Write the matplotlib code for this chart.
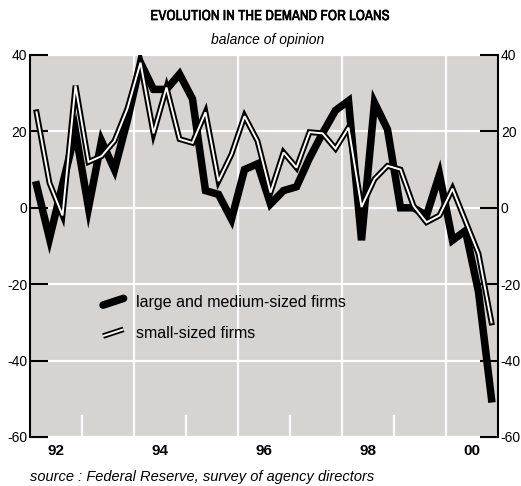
import matplotlib
matplotlib.use("Agg")
import matplotlib.pyplot as plt
from matplotlib import font_manager
from matplotlib import patheffects
from matplotlib.legend_handler import HandlerBase
from matplotlib.lines import Line2D

plt.rcParams["font.family"] = ["Liberation Sans", "DejaVu Sans"]
plt.rcParams["axes.unicode_minus"] = False

# quarterly values, 1992Q1 .. 2000Q4
large_firms = [6, -8, 6, 20, 0, 17.5, 10, 23, 38,
               31, 31, 35, 28.5, 4.5, 3.5, -3, 10, 11.5,
               1, 4.5, 5.5, 13, 19.5, 25.5, 28, -8.5, 27.5,
               20.5, 0, 0, -2, 8.7, -8.5, -6, -22, -50]
small_firms = [25, 6.5, -2, 32, 12, 13.5, 17.5, 26, 38,
               19.5, 31.5, 18, 17, 25, 7, 14, 24, 17.5,
               4, 14.5, 10.5, 19.8, 19.5, 15.5, 21, 0.2, 7.5,
               11, 10, 0.5, -3.8, -2, 5, -3.5, -12, -30]
first_year = 1992
year_labels = ["92", "94", "96", "98", "00"]
label_years = [1992, 1994, 1996, 1998, 2000]
grid_years = [1994, 1996, 1998, 2000]
minor_years = [1993, 1995, 1997, 1999]
y_ticks = [-60, -40, -20, 0, 20, 40]

x = [first_year + (i + 0.5) / 4 for i in range(len(large_firms))]

# condensed face for the title if one is around
narrow_names = sorted({f.name for f in font_manager.fontManager.ttflist
					   if "Narrow" in f.name or "Condensed" in f.name})
title_font = [narrow_names[0]] if narrow_names else ["Liberation Sans"]
title_size = 10.5


class SlantHandler(HandlerBase):
	def __init__(self, outlined=False):
		super().__init__()
		self.outlined = outlined

	def create_artists(self, legend, orig_handle, xdescent, ydescent, width, height, fontsize, trans):
		xs = [width * 0.1, width * 0.9]
		ys = [height * 0.15, height * 0.75]
		if self.outlined:
			outer = Line2D(xs, ys, color="black", lw=4, transform=trans, solid_capstyle="butt")
			inner = Line2D(xs, ys, color="white", lw=1.4, transform=trans, solid_capstyle="butt")
			return [outer, inner]
		return [Line2D(xs, ys, color="black", lw=5.5, transform=trans, solid_capstyle="round")]


fig = plt.figure(figsize=(5.21, 4.86), dpi=100)
ax = fig.add_axes([30 / 521, 1 - 437 / 486, 468 / 521, 382 / 486])
ax.set_facecolor("#d6d3d1")

ax.set_xlim(first_year, first_year + 9)
ax.set_ylim(-60, 40)

for gy in grid_years:
	ax.axvline(gy, color="white", lw=1.6, zorder=1)
ax.set_yticks(y_ticks)
ax.yaxis.grid(True, color="white", lw=1.6, zorder=1)
ax.set_axisbelow(True)

ax.plot(x, large_firms, color="black", lw=5.4, solid_joinstyle="miter", zorder=3)
ax.plot(x, small_firms, color="black", lw=4.2, solid_joinstyle="miter", zorder=4)
ax.plot(x, small_firms, color="white", lw=1.4, solid_joinstyle="miter", zorder=5)

for side in ["top", "bottom"]:
	ax.spines[side].set_visible(False)
for side in ["left", "right"]:
	ax.spines[side].set_linewidth(1.5)

ax.tick_params(axis="y", which="major", direction="in", length=13, width=1.5,
			   left=True, right=True, labelleft=True, labelright=True, labelsize=10, pad=2)

ax.set_xticks([y + 0.5 for y in label_years])
ax.set_xticklabels(year_labels, fontweight="bold", fontsize=11)
ax.set_xticks(minor_years, minor=True)
ax.tick_params(axis="x", which="major", length=0, pad=5)
ax.tick_params(axis="x", which="minor", direction="in", length=16, width=1.6, color="white")

handles = [Line2D([], [], color="black"), Line2D([], [], color="white")]
ax.legend(handles, ["large and medium-sized firms", "small-sized firms"],
		  handler_map={handles[0]: SlantHandler(False), handles[1]: SlantHandler(True)},
		  loc="upper left", bbox_to_anchor=(0.12, 0.41), frameon=False,
		  fontsize=11.5, handlelength=1.6, handletextpad=0.6, labelspacing=1.0)

fig.text(0.518, 0.967, "EVOLUTION IN THE DEMAND FOR LOANS", ha="center", va="center",
		 fontsize=title_size, fontweight="bold", family=title_font + ["DejaVu Sans"],
		 path_effects=[patheffects.withStroke(linewidth=0.4, foreground="black")])
fig.text(0.513, 0.918, "balance of opinion", ha="center", va="center",
		 fontsize=10, style="italic")
fig.text(30 / 521, 1 - 477 / 486, "source : Federal Reserve, survey of agency directors",
		 ha="left", va="center", fontsize=10.5, style="italic")

fig.savefig("out.png", dpi=100)
